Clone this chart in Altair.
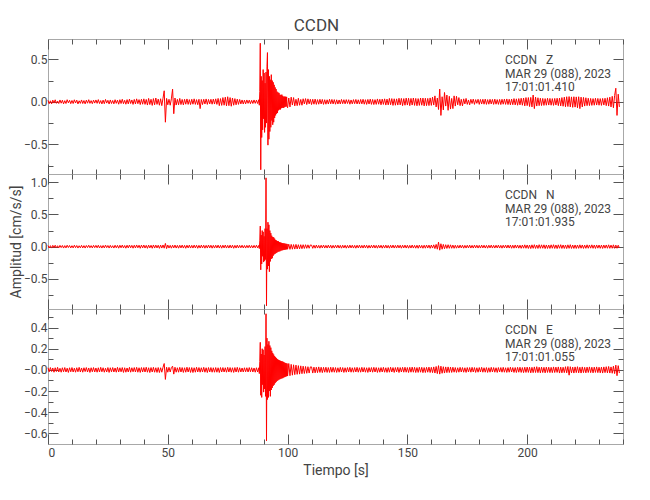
import altair as alt
import pandas as pd

FONT = "Roboto, Liberation Sans, sans-serif"
TXT = "#444444"

# ---- labels / text ----
STATION = "CCDN"
COMPONENTS = ["Z", "N", "E"]
DATE = "MAR 29 (088), 2023"
START_TIMES = ["17:01:01.410", "17:01:01.935", "17:01:01.055"]

# ---- sampling of the traces (s): coarse before/after, fine during the event ----
PRE_T0, PRE_DT = 0.0, 0.5
EVT_T0, EVT_DT = 88.0, 0.2
POST_T0, POST_DT = 100.0, 0.5
UNIT = 0.001  # values below are in 1e-3 cm/s/s

# ================= Z component =================
Z_PRE = [
    18, -22, 12, -25, 20, -15, 24, -18, 10, -20, 22, -16, 19, -24, 14, -20, 25, -12, 18, -22,
    16, -20, 24, -14, 20, -25, 12, -18, 22, -20, 15, -24, 20, -16, 25, -18, 14, -22, 20, -15,
    22, -18, 26, -20, 15, -25, 20, -22, 28, -15, 18, -26, 22, -20, 16, -24, 25, -18, 20, -28,
    25, -20, 30, -22, 18, -28, 26, -24, 32, -20, 22, -30, 28, -25, 35, -22, 26, -32, 30, -28,
    35, -30, 28, -38, 40, -32, 30, -42, 38, -35, 45, -30, 32, -40, 36, -45, 42, 130, -240, 40,
    -35, 30, -40, 35, 150, -140, 45, -38, 30, -35, 40, -32, 28, -36, 30, -28, 34, -30, 26, -32,
    30, -28, 35, -30, 26, -34, 30, -80, 28, -32, 30, -26, 34, -30, 28, -25, 30, -28, 32, -26,
    35, -30, 40, -45, 38, -42, 50, -40, 55, -48, 60, -45, 50, -52, 45, -40, 38, -35, 32, -30,
    28, -25, 22, -26, 20, -24, 22, -18, 20, -22, 18, -20, 22, -18, 20, -20,
]
Z_EVT = [
    25, -40, 120, 690, -800, 300, -420, 250, -330, 380,
    -200, 340, -360, 220, -300, 350, -250, 420, 580, -510,
    380, -440, 300, -350, 260, -300, 320, -220, 250, -270,
    230, -240, 200, -190, 170, -160, 150, -140, 120, -130,
    110, -100, 105, -90, 85, -90, 80, -75, 85, -70,
    70, -72, 60, -65, 62, -58, 60, -55, 58, -52,
]
Z_POST = [
    -70, 45, -60, 55, -38, 50, -48, 30, -45, 42, -40, 28, -40, 36, -25, 38, -32, 35, -24, 30,
    -32, 30, -28, 32, -30, 26, -28, 30, -25, 28, -30, 25, -28, 24, -26, 30, -24, 28, -25, 26,
    -28, 24, -26, 22, -25, 28, -22, 25, -24, 26, -20, 25, -28, 22, -24, 26, -22, 28, -25, 24,
    -26, 28, -24, 30, -28, 25, -30, 28, -26, 32, -30, 28, -32, 26, -30, 34, -28, 30, -35, 32,
    -30, 35, -38, 32, -36, 40, -34, 38, -42, 36, -40, 35, -38, 42, -36, 40, -45, 38, -40, 44,
    -38, 42, -45, 40, -38, 45, -42, 40, -46, 38, -42, 45, -40, 44, -48, 42, -45, 40, -44, 46,
    -42, 55, -38, 70, -60, 45, -90, 150, -160, 60, -95, 110, -50, 80, -100, 65, -85, 40, -80, 70,
    -50, 65, -35, 50, -45, 30, -48, 35, -25, 40, -30, 22, -35, 30, -20, 32, -30, 26, -18, 30,
    -30, 28, -26, 30, -28, 32, -30, 26, -28, 30, -25, 28, -30, 32, -28, 26, -30, 28, -32, 30,
    -28, 32, -30, 34, -32, 30, -35, 32, -34, 38, -36, 35, -40, 38, -36, 42, -40, 45, -48, 50,
    -45, 50, -55, 52, -60, 80, -80, 55, -50, 48, -45, 42, -44, 40, -42, 38, -40, 42, -38, 40,
    -40, 38, -42, 40, -38, 42, -45, 44, -48, 50, -52, 55, -58, 60, -55, 62, -60, 58, -65, 60,
    -62, 58, -70, 60, -80, 55, -60, 52, -50, 48, -45, 42, -44, 40, -42, 38, -40, 42, -38, 40,
    -40, 38, -42, 40, -38, 42, -45, 48, -50, 55, -60, 65, -70, 75, 160, -160, 90, -60,
]

# ================= N component =================
N_PRE = [
    18, -20, 15, -22, 20, -16, 22, -18, 14, -20, 20, -15, 18, -22, 16, -20, 22, -14, 18, -20,
    15, -20, 22, -16, 18, -22, 14, -18, 20, -20, 16, -22, 18, -15, 22, -18, 16, -20, 20, -16,
    20, -18, 22, -20, 16, -22, 18, -20, 24, -16, 18, -22, 20, -18, 15, -22, 22, -18, 20, -24,
    22, -18, 24, -20, 18, -24, 22, -20, 25, -18, 20, -24, 22, -20, 26, -18, 22, -25, 24, -20,
    25, -22, 20, -26, 24, -20, 22, -25, 26, -22, 24, -20, 22, -26, 24, -22, 26, -24, 50, -30,
    25, -22, 20, -24, 22, -20, 25, -22, 20, -24, 22, -20, 24, -22, 20, -25, 22, -20, 24, -22,
    20, -22, 24, -20, 22, -25, 20, -22, 24, -20, 22, -24, 20, -22, 25, -20, 22, -24, 20, -22,
    22, -20, 24, -22, 20, -24, 22, -20, 25, -22, 20, -22, 24, -20, 22, -25, 20, -22, 24, -20,
    20, -18, 22, -20, 18, -22, 20, -18, 22, -20, 18, -20, 20, -18, 22, -20,
]
N_EVT = [
    20, -30, 90, 320, -360, 180, -270, 250, -150, 230,
    -240, 160, -220, 280, -200, 1070, -920, 280, -350, 380,
    -300, 340, -390, 250, -230, 210, -190, 170, -180, 150,
    -140, 145, -120, 125, -110, 105, -100, 95, -90, 85,
    -80, 82, -75, 70, -72, 65, -62, 60, -58, 55,
    -55, 52, -50, 50, -48, 46, -45, 44, -42, 42,
]
N_POST = [
    -40, 38, -42, 35, -40, 32, -38, 35, -36, 30, -34, 30, -32, 30, -28, 30, -26, 28, -25, 26,
    24, -26, 22, -24, 25, -22, 20, -24, 22, -20, 24, -22, 20, -22, 24, -20, 22, -24, 20, -22,
    22, -20, 24, -22, 20, -24, 22, -20, 22, -24, 20, -22, 24, -20, 22, -22, 20, -24, 22, -20,
    24, -22, 20, -22, 24, -20, 22, -24, 20, -22, 22, -20, 24, -22, 20, -24, 22, -20, 22, -24,
    20, -22, 24, -22, 20, -24, 22, -20, 24, -22, 20, -22, 24, -20, 22, -24, 22, -20, 24, -22,
    22, -24, 20, -22, 25, -22, 20, -24, 22, -25, 24, -22, 20, -25, 22, -24, 25, -22, 24, -26,
    25, -22, 28, -30, 35, -40, 70, -55, 45, -40, 35, -32, 30, -28, 30, -26, 28, -25, 24, -26,
    22, -24, 20, -22, 24, -20, 22, -24, 20, -22, 22, -20, 24, -22, 20, -22, 24, -20, 22, -22,
    20, -22, 24, -20, 22, -22, 20, -24, 22, -20, 24, -22, 20, -22, 22, -20, 24, -22, 20, -24,
    22, -20, 24, -22, 25, -22, 24, -25, 22, -24, 26, -22, 25, -24, 22, -26, 25, -24, 28, -25,
    26, -28, 25, -30, 28, -26, 30, -28, 25, -28, 30, -26, 28, -25, 28, -30, 26, -28, 25, -28,
    28, -25, 30, -28, 26, -30, 28, -25, 30, -28, 26, -28, 25, -30, 28, -26, 30, -28, 25, -28,
    26, -28, 25, -26, 28, -25, 26, -28, 24, -26, 28, -25, 26, -24, 28, -26, 25, -28, 26, -24,
    25, -26, 24, -28, 25, -24, 26, -25, 28, -26, 24, -25, 28, -26, 24, -25, 22, -20,
]

# ================= E component =================
E_PRE = [
    20, -18, 22, -15, 18, -22, 20, -16, 24, -20, 15, -22, 20, -18, 22, -20, 16, -24, 20, -18,
    22, -20, 16, -22, 20, -18, 24, -20, 18, -22, 20, -16, 22, -20, 18, -24, 20, -18, 22, -20,
    18, -22, 20, -20, 24, -18, 20, -22, 16, -20, 22, -24, 20, -18, 22, -20, 18, -22, 24, -20,
    20, -18, 22, -24, 20, -22, 18, -20, 24, -22, 20, -18, 22, -20, 24, -22, 20, -24, 22, -20,
    22, -20, 25, -22, 20, -25, 22, -20, 24, -22, 20, -24, 22, -25, 20, -22, 24, 60, -90, 25,
    -22, 24, -20, 22, 35, -40, 25, -22, 20, -22, 24, -20, 22, -24, 20, -22, 25, -20, 22, -24,
    22, -25, 20, -22, 25, -20, 22, -22, 20, -20, 24, -22, 20, -25, 22, -20, 22, -22, 20, -22,
    22, -22, 20, -25, 22, -20, 22, -20, 20, -22, 24, -20, 22, -22, 20, -24, 22, -20, 24, -22,
    20, -20, 18, -20, 20, -18, 20, -20, 22, -18, 20, -20, 18, -22, 20, -20,
]
E_EVT = [
    20, -35, 80, 260, -240, 150, -260, 200, -140, 190,
    -210, 140, -180, 220, -250, 530, -670, 300, -280, 240,
    -260, 270, -200, 230, -250, 210, -190, 180, -170, 160,
    -150, 145, -140, 130, -125, 120, -115, 110, -105, 100,
    -98, 95, -92, 90, -88, 86, -84, 82, -80, 80,
    -78, 76, -72, 70, -68, 66, -64, 62, -60, 60,
]
E_POST = [
    -58, 60, -55, 52, -50, 48, -45, 45, -42, 40, -40, 38, -36, 35, -34, 32, -32, 30, -30, 28,
    28, -30, 26, -28, 25, -26, 28, -24, 25, -26, 24, -22, 25, -24, 22, -24, 25, -22, 24, -22,
    22, -24, 20, -22, 24, -20, 22, -24, 20, -22, 22, -20, 24, -22, 20, -22, 22, -20, 24, -22,
    20, -22, 24, -20, 22, -22, 20, -24, 22, -20, 22, -22, 24, -20, 22, -24, 20, -22, 22, -20,
    24, -22, 20, -24, 22, -22, 25, -20, 22, -24, 22, -20, 24, -25, 22, -20, 24, -22, 25, -22,
    22, -25, 24, -22, 26, -22, 24, -25, 22, -24, 25, -22, 24, -26, 22, -25, 24, -22, 26, -25,
    24, -26, 28, -30, 32, -35, 40, -40, 35, -32, 30, -30, 28, -26, 28, -25, 26, -24, 25, -22,
    22, -24, 20, -22, 24, -20, 22, -22, 20, -24, 22, -20, 22, -22, 24, -20, 22, -24, 20, -22,
    22, -20, 24, -22, 20, -22, 22, -24, 20, -22, 24, -20, 22, -22, 20, -24, 22, -20, 22, -22,
    24, -22, 20, -24, 22, -22, 25, -20, 22, -24, 22, -25, 24, -22, 25, -24, 22, -26, 25, -24,
    26, -24, 25, -28, 24, -26, 28, -25, 30, -26, 25, -28, 26, -25, 24, -28, 26, -24, 25, -26,
    24, -26, 28, -25, 26, -24, 28, -30, 26, -28, 25, -26, 30, -28, 32, -50, 30, -28, 26, -30,
    28, -26, 30, -28, 25, -30, 28, -26, 24, -28, 26, -25, 28, -26, 25, -28, 26, -24, 28, -26,
    25, -28, 26, -30, 28, -26, 30, -28, 32, -30, 28, -32, 35, -35, 45, -55, 40, -30,
]

# ---- axis values ----
X_LABELS = [0, 50, 100, 150, 200]
X_MAJOR = [0, 50, 100, 150, 200]
X_MINOR = [10, 20, 30, 40, 60, 70, 80, 90, 110, 120, 130, 140, 160, 170, 180, 190,
           210, 220, 230, 240]
Y_DOMAINS = [[-0.85, 0.74], [-0.97, 1.13], [-0.70, 0.575]]
Y_MAJOR = [[-0.5, 0.0, 0.5], [-0.5, 0.0, 0.5, 1.0], [-0.6, -0.4, -0.2, 0.0, 0.2, 0.4]]
Y_MINOR = [[-0.75, -0.25, 0.25], [-0.75, -0.25, 0.25, 0.75], [-0.5, -0.3, -0.1, 0.1, 0.3, 0.5]]

MAJOR_LEN = {"expr": "-10"}
MINOR_LEN = {"expr": "-5"}


def series(pre, evt, post):
    t = ([PRE_T0 + PRE_DT * i for i in range(len(pre))]
         + [EVT_T0 + EVT_DT * i for i in range(len(evt))]
         + [POST_T0 + POST_DT * i for i in range(len(post))])
    return pd.DataFrame({"t": t, "v": [x * UNIT for x in pre + evt + post]})


W, H = 575, 135


def panel(df, k, xlabels, ytitle, label_expr=None):
    xs = alt.Scale(domain=[0, 240], nice=False, zero=False)
    ys = alt.Scale(domain=Y_DOMAINS[k], nice=False, zero=False)
    tick_common = dict(labels=False, domain=False, grid=False, title=None,
                       tickColor="#555555", tickWidth=1)

    yaxis_kw = dict(orient="left", values=Y_MAJOR[k], ticks=False, domain=False,
                    grid=False, labelPadding=1, title=ytitle, titlePadding=0)
    if label_expr:
        yaxis_kw["labelExpr"] = label_expr
    else:
        yaxis_kw["format"] = ".1f"

    line = alt.Chart(df).mark_line(color="#ff0000", strokeWidth=1).encode(
        x=alt.X("t:Q", scale=xs,
                axis=alt.Axis(orient="bottom", values=X_LABELS, ticks=False, domain=False,
                              grid=False, labels=xlabels, labelPadding=3,
                              title="Tiempo [s]" if xlabels else None, titlePadding=5)),
        y=alt.Y("v:Q", scale=ys, axis=alt.Axis(**yaxis_kw)),
    )

    def tick_layer(xorient, yorient, xvals, yvals, size):
        return alt.Chart(df).mark_line(opacity=0).encode(
            x=alt.X("t:Q", scale=xs, axis=alt.Axis(orient=xorient, values=xvals,
                                                   tickSize=size, **tick_common)),
            y=alt.Y("v:Q", scale=ys, axis=alt.Axis(orient=yorient, values=yvals,
                                                   tickSize=size, **tick_common)),
        )

    layers = [
        line,
        tick_layer("bottom", "left", X_MAJOR, Y_MAJOR[k], MAJOR_LEN),
        tick_layer("bottom", "left", X_MINOR, Y_MINOR[k], MINOR_LEN),
        tick_layer("top", "right", X_MAJOR, Y_MAJOR[k], MAJOR_LEN),
        tick_layer("top", "right", X_MINOR, Y_MINOR[k], MINOR_LEN),
    ]
    info = "\n".join([STATION + "\u00a0\u00a0\u00a0" + COMPONENTS[k], DATE, START_TIMES[k]])
    text = alt.Chart(pd.DataFrame({"info": [info]})).mark_text(
        align="left", baseline="top", font=FONT, fontSize=12, color=TXT,
        lineBreak="\n", lineHeight=13.5,
    ).encode(x=alt.value(457), y=alt.value(16), text="info:N")
    layers.append(text)

    return alt.layer(*layers).resolve_axis(
        x="independent", y="independent").properties(width=W, height=H)


p1 = panel(series(Z_PRE, Z_EVT, Z_POST), 0, False, None)
p2 = panel(series(N_PRE, N_EVT, N_POST), 1, False, "Amplitud [cm/s/s]")
p3 = panel(series(E_PRE, E_EVT, E_POST), 2, True, None,
           label_expr="datum.value === 0 ? '\u22120.0' : format(datum.value, '.1f')")

chart = alt.vconcat(p1, p2, p3, spacing=0, bounds="flush").properties(
    title=alt.Title(STATION, fontSize=17, font=FONT, color=TXT, fontWeight="normal",
                    anchor="middle", offset=3),
    padding={"left": 0, "top": 9, "right": 5, "bottom": 5},
).configure_view(stroke="#a8a8a8", strokeWidth=1).configure_axis(
    labelFont=FONT, titleFont=FONT, labelColor=TXT, titleColor=TXT,
    labelFontSize=12, titleFontSize=14, titleFontWeight="normal",
).configure_concat(spacing=0)

chart.save("out.html", embed_options={"renderer": "svg", "actions": False})
